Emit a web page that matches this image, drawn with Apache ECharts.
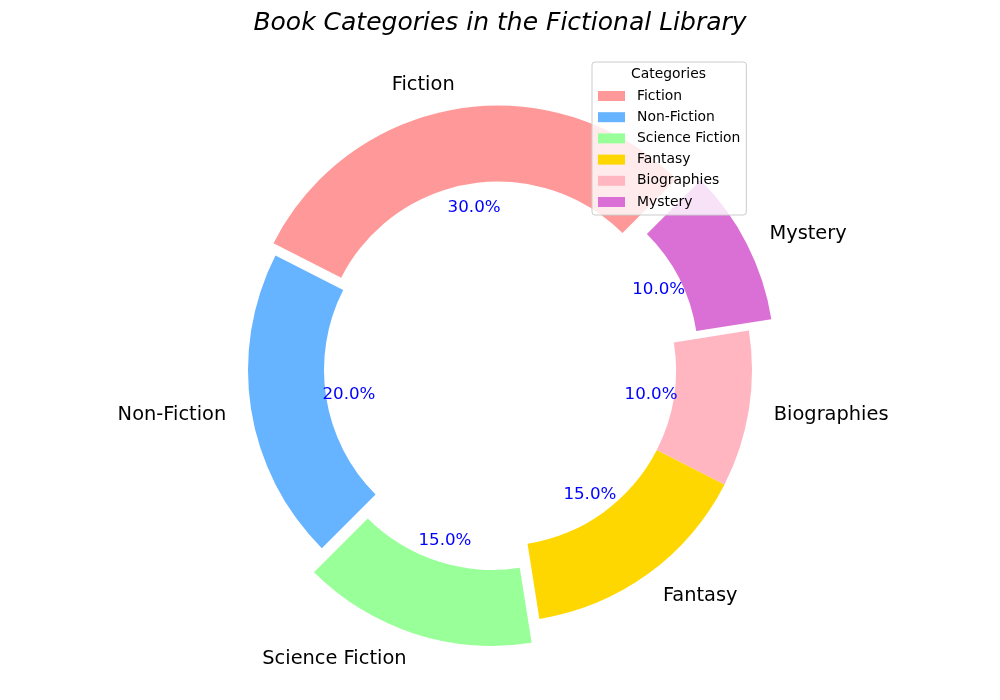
<!DOCTYPE html>
<html><head><meta charset="utf-8">
<script src="https://cdn.jsdelivr.net/npm/echarts@6/dist/echarts.min.js"></script>
<style>html,body{margin:0;padding:0;background:#fff}#c{width:1000px;height:700px}</style>
</head><body><div id="c"></div>
<script>
const chartTitle = 'Book Categories in the Fictional Library';
const legendTitle = 'Categories';
const categories = ['Fiction', 'Non-Fiction', 'Science Fiction', 'Fantasy', 'Biographies', 'Mystery'];
const shares = [30, 20, 15, 15, 10, 10];
const explode = [0.05, 0, 0.1, 0, 0, 0.1];
const colors = ['#ff9999', '#66b3ff', '#99ff99', '#ffd700', '#ffb6c1', '#da70d6'];

const CX = 500, CY = 370, R = 252, R_IN = 176;
const FONT = 'DejaVu Sans';
const total = shares.reduce((a, b) => a + b, 0);
const groups = Array.from(new Set(explode));
const series = [];
const clear = 'rgba(0,0,0,0)';

groups.forEach((ex, g) => {
  const off = ex * R;
  const common = {
    type: 'pie', center: [CX, CY], startAngle: 45, clockwise: false,
    selectedMode: 'multiple', selectedOffset: off, avoidLabelOverlap: false,
    animation: false, silent: true, emphasis: { disabled: true },
    labelLine: { show: false, length: 0.1 * R, length2: 0 }
  };
  series.push(Object.assign({}, common, {
    name: 'ring' + g, radius: [R_IN, R],
    label: { show: true, position: 'outside', fontSize: 19.4, color: '#000', fontFamily: FONT,
      distanceToLabelLine: 0, formatter: '{b}' },
    labelLayout: { dy: 1.5 },
    data: categories.map((c, i) => ({
      name: c, value: shares[i], selected: ex > 0,
      itemStyle: { color: explode[i] === ex ? colors[i] : clear, borderWidth: 0 },
      label: { show: explode[i] === ex }
    }))
  }));
  series.push(Object.assign({}, common, {
    name: 'pct' + g, radius: [0, 1.19 * R],
    label: { show: true, position: 'inside', fontSize: 16.7, color: '#0000ff', fontFamily: FONT,
      formatter: p => (p.value / total * 100).toFixed(1) + '%' },
    labelLayout: { dy: 1 },
    data: categories.map((c, i) => ({
      name: c, value: shares[i], selected: ex > 0,
      itemStyle: { color: clear, borderWidth: 0 },
      label: { show: explode[i] === ex }
    }))
  }));
});

const chart = echarts.init(document.getElementById('c'));
chart.setOption({
  backgroundColor: '#fff',
  animation: false,
  textStyle: { fontFamily: FONT },
  title: [
    { text: chartTitle, left: 500, top: 11, textAlign: 'center', padding: 0,
      textStyle: { fontSize: 25, fontStyle: 'italic', fontWeight: 'normal', color: '#000', fontFamily: FONT } },
    { text: legendTitle, left: 668.5, top: 67, textAlign: 'center', padding: 0, z: 10,
      textStyle: { fontSize: 13.9, fontWeight: 'normal', color: '#000', fontFamily: FONT } }
  ],
  legend: {
    orient: 'vertical', left: 592, top: 62, padding: [27, 6, 6, 6],
    backgroundColor: 'rgba(255,255,255,0.8)', borderColor: '#cccccc', borderWidth: 1, borderRadius: 3,
    icon: 'rect', itemWidth: 27, itemHeight: 10, itemGap: 7.2,
    selectedMode: false,
    textStyle: { fontSize: 13.9, color: '#000', fontFamily: FONT, lineHeight: 14, padding: [0, 0, 0, 7] },
    itemStyle: { borderWidth: 0 },
    data: categories.map((c, i) => ({ name: c, itemStyle: { color: colors[i], borderWidth: 0 } }))
  },
  series: series
});
</script></body></html>
